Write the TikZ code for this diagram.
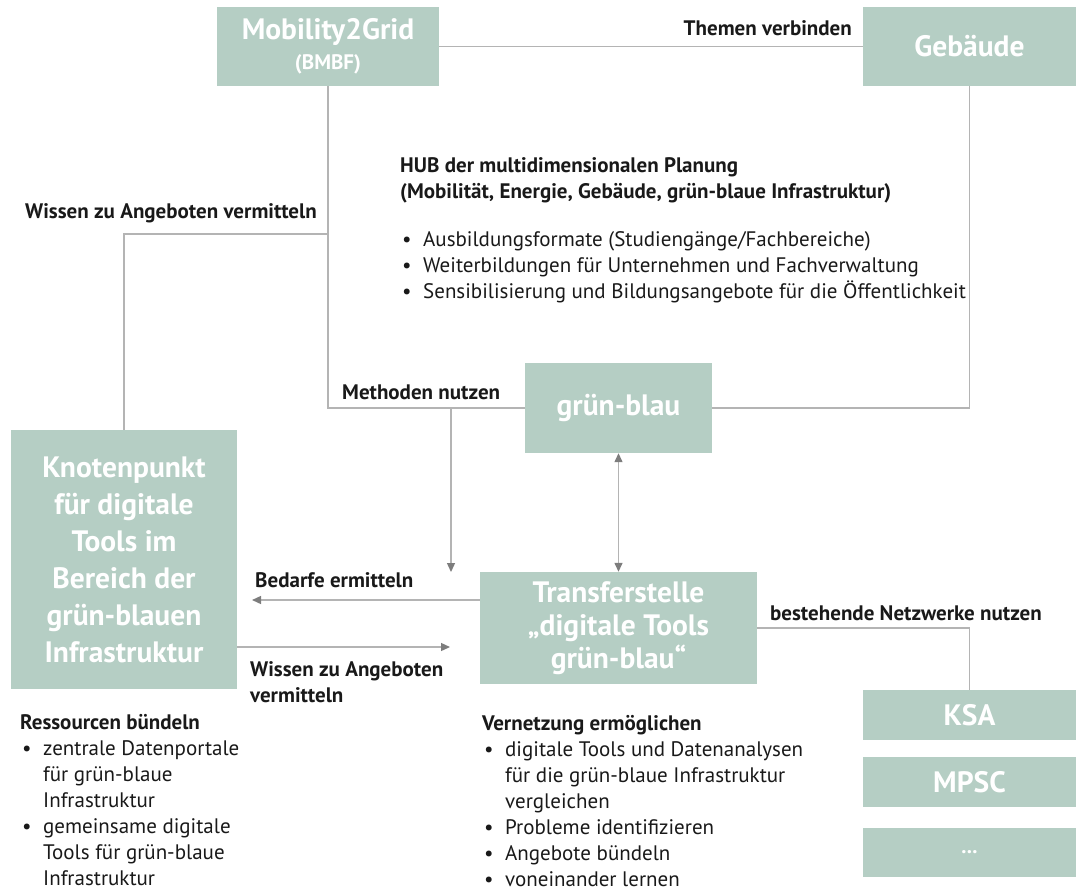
\documentclass[tikz,border=0pt]{standalone}
\usepackage{fontspec}
\setmainfont{PT Sans}
\usetikzlibrary{arrows.meta}
\definecolor{boxfill}{RGB}{181,206,196}
\definecolor{linecol}{RGB}{180,180,180}
\definecolor{tipcol}{RGB}{125,125,125}
\definecolor{txt}{RGB}{25,25,25}
\newcommand{\bul}{\makebox[23pt][l]{\hspace{2pt}•}}
\newcommand{\ind}{\hspace{23pt}}
\begin{document}
\begin{tikzpicture}[x=1pt,y=-1pt,
  box/.style={fill=boxfill, draw=none, text=white, font=\fontsize{29.5}{37}\selectfont\bfseries, align=center, inner sep=0pt},
  conn/.style={draw=linecol, line width=1.3pt},
  arr/.style={conn, -{Triangle[length=9pt,width=8pt,color=tipcol]}},
  darr/.style={conn, {Triangle[length=9pt,width=8pt,color=tipcol]}-{Triangle[length=9pt,width=8pt,color=tipcol]}},
  lbl/.style={text=txt, font=\fontsize{21}{26}\selectfont\bfseries, inner sep=0pt},
  body/.style={text=txt, font=\fontsize{21}{26}\selectfont, inner sep=0pt, align=left},
]
\useasboundingbox (0,0) rectangle (1076,892);

% boxes
\node[box, minimum width=222pt, minimum height=79pt] (m2g) at (328,46.5)
  {Mobility2Grid\\[-7pt]{\fontsize{21}{24}\selectfont(BMBF)}};
\node[box, minimum width=213pt, minimum height=79pt] (geb) at (969.5,46.5) {Gebäude};
\node[box, minimum width=226pt, minimum height=259pt] (knot) at (124,559.5)
  {Knotenpunkt\\für digitale\\Tools im\\Bereich der\\grün-blauen\\Infrastruktur};
\node[box, minimum width=187pt, minimum height=90pt] (gb) at (618.5,408) {grün-blau};
\node[box, minimum width=277pt, minimum height=112pt, font=\fontsize{29.5}{33}\selectfont\bfseries] (tr) at (618.5,628)
  {Transferstelle\\„digitale Tools\\grün-blau“};
\node[box, minimum width=213pt, minimum height=50pt] (ksa) at (969.5,715) {KSA};
\node[box, minimum width=213pt, minimum height=50pt] (mpsc) at (969.5,782) {MPSC};
\node[box, minimum width=213pt, minimum height=49pt, font=\fontsize{21}{24}\selectfont\bfseries] (dots) at (969.5,852.5) {...};

% helper coordinates
\coordinate (c1) at (328,408);
\coordinate (j1) at (328,234);
\coordinate (c2) at (124,234);
\coordinate (c3) at (451,408);
\coordinate (c4) at (451,572);
\coordinate (c5) at (252,600);
\coordinate (c6) at (450,647);

% connectors
\draw[conn] (m2g.east) -- (geb.west);
\draw[conn] (m2g.south) -- (c1) -- (gb.west);
\draw[conn] (j1) -- (c2) -- (knot.north);
\draw[conn] (gb.east) -- (gb.east -| geb.south) -- (geb.south);
\draw[arr] (c3) -- (c4);
\draw[darr] (gb.south) -- (tr.north);
\draw[arr] (c5 -| tr.west) -- (c5);
\draw[arr] (c6 -| knot.east) -- (c6);
\draw[conn] (tr.east) -- (tr.east -| ksa.north) -- (ksa.north);

% labels
\node[lbl, anchor=east] (lthemen) at (852,28) {Themen verbinden};
\node[lbl, anchor=west] (lwissen1) at (25,213) {Wissen zu Angeboten vermitteln};
\node[lbl, anchor=west] (lmeth) at (342,392) {Methoden nutzen};
\node[lbl, anchor=west] (lbed) at (255,580) {Bedarfe ermitteln};
\node[lbl, anchor=north west, align=left] (lwissen2) at (250,661) {Wissen zu Angeboten\\vermitteln};
\node[lbl, anchor=west] (lnetz) at (770,613) {bestehende Netzwerke nutzen};

\node[body, anchor=north west] (hub) at (400,157)
  {\textbf{HUB der multidimensionalen Planung}\\
   \textbf{(Mobilität, Energie, Gebäude, grün-blaue Infrastruktur)}\\[22pt]
   \bul Ausbildungsformate (Studiengänge/Fachbereiche)\\
   \bul Weiterbildungen für Unternehmen und Fachverwaltung\\
   \bul Sensibilisierung und Bildungsangebote für die Öffentlichkeit};

\node[body, anchor=north west] (res) at (20,714)
  {\textbf{Ressourcen bündeln}\\
   \bul zentrale Datenportale\\
   \ind für grün-blaue\\
   \ind Infrastruktur\\
   \bul gemeinsame digitale\\
   \ind Tools für grün-blaue\\
   \ind Infrastruktur};

\node[body, anchor=north west] (vern) at (482,715)
  {\textbf{Vernetzung ermöglichen}\\
   \bul digitale Tools und Datenanalysen\\
   \ind für die grün-blaue Infrastruktur\\
   \ind vergleichen\\
   \bul Probleme identifizieren\\
   \bul Angebote bündeln\\
   \bul voneinander lernen};
\end{tikzpicture}
\end{document}
